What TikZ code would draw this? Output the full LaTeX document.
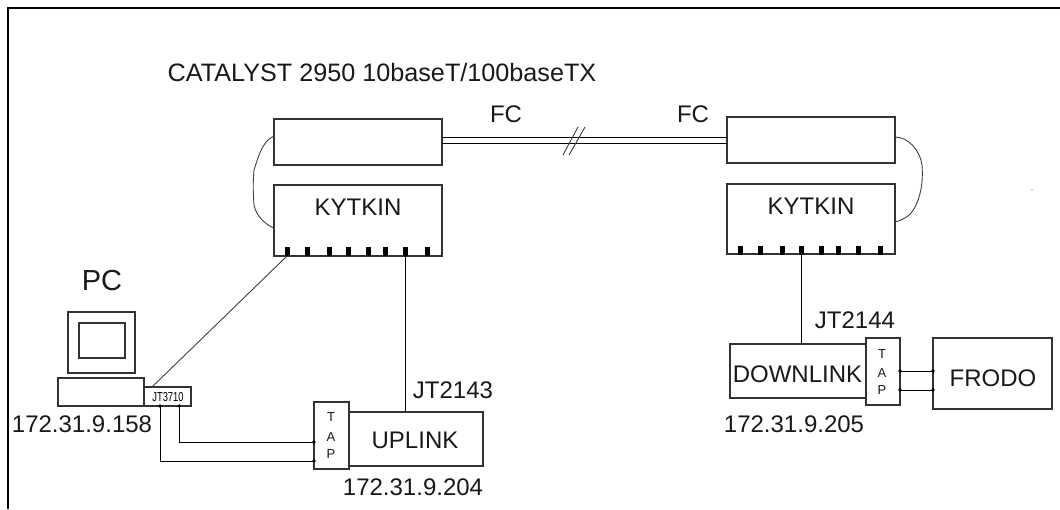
\documentclass[tikz,border=0pt]{standalone}
\usepackage{fontspec}
\setmainfont{Liberation Sans}
\tikzset{
  box/.style={draw=black!80, line width=1.1pt, fill=white, inner sep=0pt, outer sep=0pt},
  wire/.style={draw=black, line width=1pt},
  thin wire/.style={draw=black!75, line width=.9pt},
  portbox/.style={fill=black, inner sep=0pt, outer sep=0pt, minimum width=5pt, minimum height=9pt},
  lab/.style={inner sep=0pt, outer sep=0pt, anchor=base, text=black!90, font=\fontsize{24}{24}\selectfont},
  tapl/.style={inner sep=0pt, outer sep=0pt, anchor=base, text=black!90, font=\fontsize{13}{13}\selectfont},
}
\begin{document}
\begin{tikzpicture}[x=1pt,y=-1pt]
\useasboundingbox (0,0) rectangle (1060,509);
\fill[white] (0,0) rectangle (1060,509);
% frame
\draw[line width=2pt,black] (8,509) -- (8,8) -- (1060,8);

\node[lab,font=\fontsize{25.2}{25.2}\selectfont] (title) at (382,81) {CATALYST 2950 10baseT/100baseTX};

% left switch
\node[box,minimum width=168pt,minimum height=46pt] (topL) at (358,142) {};
\node[box,minimum width=168pt,minimum height=71pt] (kytL) at (358,220.5) {};
\node[lab] (kytLt) at (358,215) {KYTKIN};
\foreach \n/\x in {1/287,2/307,3/329,4/348,5/368,6/385,7/405,8/427}
  \node[portbox] (pL\n) at (\x,251.5) {};
% right switch
\node[box,minimum width=168pt,minimum height=46pt] (topR) at (811,140) {};
\node[box,minimum width=168pt,minimum height=70pt] (kytR) at (811,219) {};
\node[lab] (kytRt) at (811,214) {KYTKIN};
\foreach \n/\x in {1/740,2/760,3/782,4/801,5/821,6/838,7/858,8/880}
  \node[portbox] (pR\n) at (\x,250) {};

% FC link
\coordinate (fcLa) at (topL.east |- 0,137);
\coordinate (fcLb) at (topL.east |- 0,143);
\coordinate (fcRa) at (topR.west |- 0,137);
\coordinate (fcRb) at (topR.west |- 0,143);
\draw[wire] (fcLa) -- (fcRa);
\draw[wire] (fcLb) -- (fcRb);
\coordinate (s1a) at (563,155); \coordinate (s1b) at (578,127);
\coordinate (s2a) at (569,155); \coordinate (s2b) at (585,127);
\draw[thin wire] (s1a) -- (s1b);
\draw[thin wire] (s2a) -- (s2b);
\node[lab] (fc1) at (506,122) {FC};
\node[lab] (fc2) at (693,122) {FC};

% loop cables
\coordinate (lL1) at (274,136);
\coordinate (lL2) at (274,228);
\draw[thin wire] (lL1) .. controls (262,141) and (258,158) .. (254,170)
  .. controls (253,180) and (253,192) .. (254,205)
  .. controls (256,215) and (264,224) .. (lL2);
\coordinate (lR1) at (895,137);
\coordinate (lR2) at (895,222);
\draw[thin wire] (lR1) .. controls (908,137) and (920,150) .. (922,165)
  .. controls (923,178) and (922,192) .. (916,205)
  .. controls (912,214) and (906,219) .. (lR2);

% PC
\node[lab,font=\fontsize{29}{29}\selectfont] (pc) at (102,290) {PC};
\node[box,minimum width=67pt,minimum height=61pt] (mon) at (101.5,342.5) {};
\node[box,minimum width=46pt,minimum height=35pt] (screen) at (102,340.5) {};
\node[box,minimum width=86pt,minimum height=28pt] (base) at (101,392) {};
\node[box,minimum width=47pt,minimum height=19pt] (jt3710) at (167.5,396.5) {};
\node[inner sep=0pt,anchor=base,xscale=.72,font=\fontsize{13}{13}\selectfont] (jt3710t) at (168,401) {JT3710};
\node[lab] (ip158) at (82,432) {172.31.9.158};

% uplink
\node[box,minimum width=134pt,minimum height=54pt] (uplink) at (416,439) {};
\node[box,minimum width=35pt,minimum height=67pt] (tapL) at (331.5,435.5) {};
\node[tapl] at (331,421) (tl1) {T};
\node[tapl] at (331,441) (tl2) {A};
\node[tapl] at (331,458) (tl3) {P};
\node[lab] (upt) at (415,448) {UPLINK};
\node[lab] (jt2143) at (453,398) {JT2143};
\node[lab] (ip204) at (413,495) {172.31.9.204};

% downlink
\node[box,minimum width=136pt,minimum height=54pt] (down) at (798,371) {};
\node[box,minimum width=34pt,minimum height=67pt] (tapR) at (883,371.5) {};
\node[tapl] at (882,358) (tr1) {T};
\node[tapl] at (882,377) (tr2) {A};
\node[tapl] at (882,394) (tr3) {P};
\node[lab] (downt) at (797.5,382) {DOWNLINK};
\node[box,minimum width=119pt,minimum height=71pt] (frodo) at (992.5,373.5) {};
\node[lab] (frodot) at (993,386) {FRODO};
\node[lab] (jt2144) at (855,328) {JT2144};
\node[lab] (ip205) at (794,432) {172.31.9.205};

% connectors
\draw[thin wire] (pL1.south) -- (152,387);
\draw[wire] (pL7.south) -- (pL7.south |- uplink.north);
\draw[wire] (pR4.south) -- (pR4.south |- down.north);

\coordinate (jA) at (179.5,406);
\coordinate (jB) at (160,406);
\coordinate (tA) at (tapL.west |- 0,442);
\coordinate (tB) at (tapL.west |- 0,461);
\draw[wire] (jA) |- (tA);
\draw[wire] (jB) |- (tB);
\fill (jA) circle (1.8pt) (jB) circle (1.8pt) (tA) circle (1.8pt) (tB) circle (1.8pt);

\coordinate (rA1) at (tapR.east |- 0,371);
\coordinate (rA2) at (frodo.west |- 0,371);
\coordinate (rB1) at (tapR.east |- 0,390);
\coordinate (rB2) at (frodo.west |- 0,390);
\draw[wire] (rA1) -- (rA2);
\draw[wire] (rB1) -- (rB2);
\fill (rA1) circle (1.8pt) (rA2) circle (1.8pt) (rB1) circle (1.8pt) (rB2) circle (1.8pt);

% speck
\fill[black!70] (1032,190) circle (.6pt);
\end{tikzpicture}
\end{document}
